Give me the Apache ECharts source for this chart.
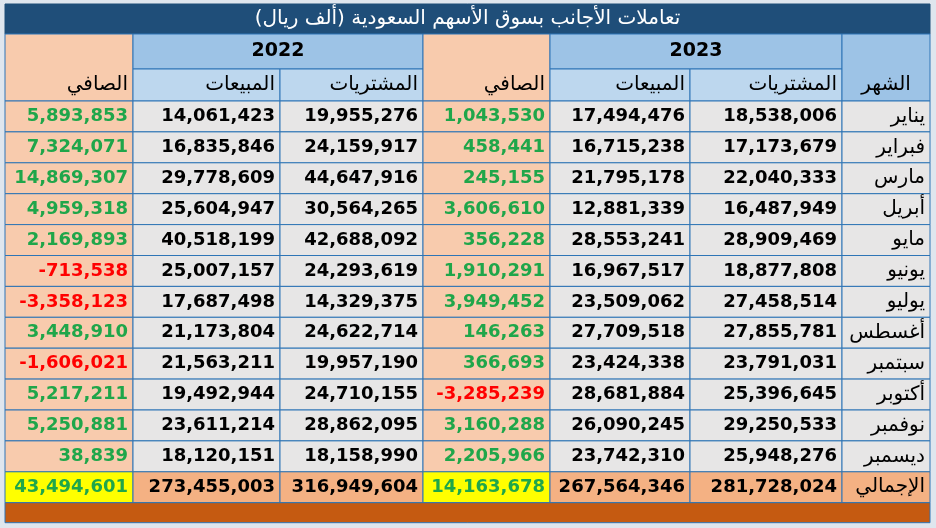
<!DOCTYPE html>
<html><head><meta charset="utf-8">
<script src="https://cdn.jsdelivr.net/npm/echarts@6/dist/echarts.min.js"></script>
<style>html,body{margin:0;padding:0;background:#dfe6ee}#c{width:936px;height:528px}</style>
</head><body><div id="c"></div>
<script>
const title = 'تعاملات الأجانب بسوق الأسهم السعودية (ألف ريال)';
const years = ['2022', '2023'];
const colHeaders = ['الصافي', 'المبيعات', 'المشتريات', 'الصافي', 'المبيعات', 'المشتريات', 'الشهر'];
const months = ['يناير','فبراير','مارس','أبريل','مايو','يونيو','يوليو','أغسطس','سبتمبر','أكتوبر','نوفمبر','ديسمبر'];
const totalLabel = 'الإجمالي';
const buy2023 = [18538006,17173679,22040333,16487949,28909469,18877808,27458514,27855781,23791031,25396645,29250533,25948276];
const sell2023 = [17494476,16715238,21795178,12881339,28553241,16967517,23509062,27709518,23424338,28681884,26090245,23742310];
const net2023 = [1043530,458441,245155,3606610,356228,1910291,3949452,146263,366693,-3285239,3160288,2205966];
const buy2022 = [19955276,24159917,44647916,30564265,42688092,24293619,14329375,24622714,19957190,24710155,28862095,18158990];
const sell2022 = [14061423,16835846,29778609,25604947,40518199,25007157,17687498,21173804,21563211,19492944,23611214,18120151];
const net2022 = [5893853,7324071,14869307,4959318,2169893,-713538,-3358123,3448910,-1606021,5217211,5250881,38839];
const totals = {buy2023:281728024, sell2023:267564346, net2023:14163678, buy2022:316949604, sell2022:273455003, net2022:43494601};

// layout
const X = [5,133,280,423,550,690,842,930];
const titleY = [4,34], h1 = [34,69], h2 = [69,101];
const rowTop = 101, rowH = 30.9;
const C = {title:'#1f4e79', hdr1:'#9dc3e6', hdr2:'#bdd7ee', grey:'#e7e6e6', net:'#f8cbad', tot:'#f4b183', yellow:'#ffff00', bar:'#c55a11', line:'#2e75b6', green:'#1fa64a', red:'#ff0000'};
const fmt = v => v.toLocaleString('en-US');
const cells = [];
function cell(x0,x1,y0,y1,text,fill,color,opts){cells.push([x0,x1,y0,y1,text,fill,color,JSON.stringify(opts||{})]);}
cell(X[0],X[7],titleY[0],titleY[1],title,C.title,'#fff',{align:'center',size:20,stroke:C.title});
cell(X[0],X[1],h1[0],h2[1],colHeaders[0],C.net,'#000',{valign:'bottom',size:20});
cell(X[1],X[3],h1[0],h1[1],years[0],C.hdr1,'#000',{align:'center',bold:true,size:19});
cell(X[1],X[2],h2[0],h2[1],colHeaders[1],C.hdr2,'#000',{size:20});
cell(X[2],X[3],h2[0],h2[1],colHeaders[2],C.hdr2,'#000',{size:20});
cell(X[3],X[4],h1[0],h2[1],colHeaders[3],C.net,'#000',{valign:'bottom',size:20});
cell(X[4],X[6],h1[0],h1[1],years[1],C.hdr1,'#000',{align:'center',bold:true,size:19});
cell(X[4],X[5],h2[0],h2[1],colHeaders[4],C.hdr2,'#000',{size:20});
cell(X[5],X[6],h2[0],h2[1],colHeaders[5],C.hdr2,'#000',{size:20});
cell(X[6],X[7],h1[0],h2[1],colHeaders[6],C.hdr1,'#000',{valign:'bottom',size:20,align:'center'});
const netColor = v => v < 0 ? C.red : C.green;
months.forEach((m,i)=>{
  const y0 = rowTop + i*rowH, y1 = y0 + rowH;
  cell(X[0],X[1],y0,y1,fmt(net2022[i]),C.net,netColor(net2022[i]),{bold:true});
  cell(X[1],X[2],y0,y1,fmt(sell2022[i]),C.grey,'#000',{bold:true});
  cell(X[2],X[3],y0,y1,fmt(buy2022[i]),C.grey,'#000',{bold:true});
  cell(X[3],X[4],y0,y1,fmt(net2023[i]),C.net,netColor(net2023[i]),{bold:true});
  cell(X[4],X[5],y0,y1,fmt(sell2023[i]),C.grey,'#000',{bold:true});
  cell(X[5],X[6],y0,y1,fmt(buy2023[i]),C.grey,'#000',{bold:true});
  cell(X[6],X[7],y0,y1,m,C.grey,'#000',{size:20});
});
{
  const y0 = rowTop + 12*rowH, y1 = y0 + rowH;
  cell(X[0],X[1],y0,y1,fmt(totals.net2022),C.yellow,C.green,{bold:true});
  cell(X[1],X[2],y0,y1,fmt(totals.sell2022),C.tot,'#000',{bold:true});
  cell(X[2],X[3],y0,y1,fmt(totals.buy2022),C.tot,'#000',{bold:true});
  cell(X[3],X[4],y0,y1,fmt(totals.net2023),C.yellow,C.green,{bold:true});
  cell(X[4],X[5],y0,y1,fmt(totals.sell2023),C.tot,'#000',{bold:true});
  cell(X[5],X[6],y0,y1,fmt(totals.buy2023),C.tot,'#000',{bold:true});
  cell(X[6],X[7],y0,y1,totalLabel,C.tot,'#000',{size:20});
  cell(X[0],X[7],y1,y1+20,'',C.bar,'#000',{});
}
const chart = echarts.init(document.getElementById('c'));
chart.setOption({
  animation:false,
  grid:{left:0,right:0,top:0,bottom:0},
  xAxis:{type:'value',min:0,max:936,show:false},
  yAxis:{type:'value',min:0,max:528,inverse:true,show:false},
  series:[{type:'custom',data:cells,renderItem:(p,api)=>{
    const d = cells[p.dataIndex], o = JSON.parse(d[7]);
    const a = api.coord([d[0],d[2]]), b = api.coord([d[1],d[3]]);
    const align = o.align || 'right';
    const tx = align==='center' ? (a[0]+b[0])/2 : b[0]-5;
    const ty = o.valign==='bottom' ? b[1]-16 : (a[1]+b[1])/2;
    return {type:'group',children:[
      {type:'rect',shape:{x:a[0],y:a[1],width:b[0]-a[0],height:b[1]-a[1]},style:{fill:d[5],stroke:o.stroke||C.line,lineWidth:1}},
      {type:'text',x:tx,y:ty,style:{text:d[4],fill:d[6],align:align,verticalAlign:'middle',
        font:(o.bold?'bold ':'')+(o.size||18)+'px "DejaVu Sans", sans-serif'}}
    ]};
  }}]
});
</script></body></html>
